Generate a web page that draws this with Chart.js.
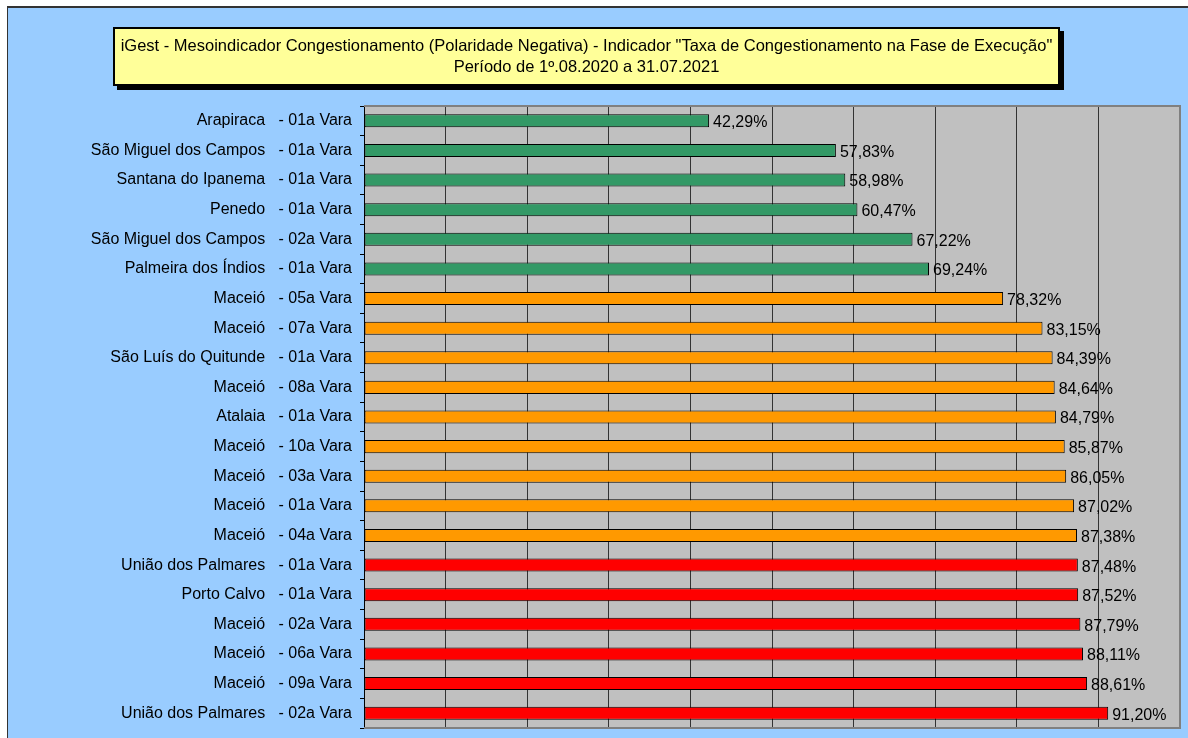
<!DOCTYPE html>
<html>
<head>
<meta charset="utf-8">
<script src="https://cdn.jsdelivr.net/npm/chart.js@4"></script>
<style>
  body { margin: 0; background: #fff; }
  #wrap { position: relative; width: 1188px; height: 738px; }
  #titulo {
    position: absolute; left: 113px; top: 27px; width: 943px; height: 49px;
    background: #ffff99; border: 2px solid #000; box-shadow: 4px 4px 0 #000;
    font-family: "Liberation Sans", Arial, sans-serif; font-size: 16.5px;
    text-align: center; line-height: 21px; padding-top: 6px; box-sizing: content-box;
  }
</style>
</head>
<body>
<div id="wrap">
  <canvas id="grafico" width="1188" height="738"></canvas>
  <div id="titulo"></div>
</div>
<script>
// dados
const tituloLinhas = [
  'iGest - Mesoindicador Congestionamento (Polaridade Negativa) - Indicador "Taxa de Congestionamento na Fase de Execução"',
  'Período de 1º.08.2020 a 31.07.2021'
]
const varas = [
  "Arapiraca   - 01a Vara",
  "São Miguel dos Campos   - 01a Vara",
  "Santana do Ipanema   - 01a Vara",
  "Penedo   - 01a Vara",
  "São Miguel dos Campos   - 02a Vara",
  "Palmeira dos Índios   - 01a Vara",
  "Maceió   - 05a Vara",
  "Maceió   - 07a Vara",
  "São Luís do Quitunde   - 01a Vara",
  "Maceió   - 08a Vara",
  "Atalaia   - 01a Vara",
  "Maceió   - 10a Vara",
  "Maceió   - 03a Vara",
  "Maceió   - 01a Vara",
  "Maceió   - 04a Vara",
  "União dos Palmares   - 01a Vara",
  "Porto Calvo   - 01a Vara",
  "Maceió   - 02a Vara",
  "Maceió   - 06a Vara",
  "Maceió   - 09a Vara",
  "União dos Palmares   - 02a Vara",
]
const taxas = [42.29, 57.83, 58.98, 60.47, 67.22, 69.24, 78.32, 83.15, 84.39, 84.64,
  84.79, 85.87, 86.05, 87.02, 87.38, 87.48, 87.52, 87.79, 88.11, 88.61, 91.2]
const faixas = ["verde", "verde", "verde", "verde", "verde", "verde",
  "laranja", "laranja", "laranja", "laranja", "laranja", "laranja", "laranja", "laranja", "laranja",
  "vermelho", "vermelho", "vermelho", "vermelho", "vermelho", "vermelho"]

const coresFaixa = { verde: "#339966", laranja: "#ff9900", vermelho: "#ff0000" }

document.getElementById("titulo").innerHTML = tituloLinhas.join("<br>")

// fundo azul, área de plotagem cinza e bordas
const fundo = {
  id: "fundo",
  beforeDraw(chart) {
    const { ctx, chartArea: a } = chart
    ctx.save()
    ctx.fillStyle = "#ffffff"
    ctx.fillRect(0, 0, chart.width, chart.height)
    ctx.fillStyle = "#99ccff"
    ctx.fillRect(8, 8, chart.width - 8, chart.height - 8)
    ctx.fillStyle = "#333"
    ctx.fillRect(7, 6, chart.width - 7, 2)
    ctx.fillRect(7, 6, 1, chart.height - 6)
    ctx.fillStyle = "#c0c0c0"
    ctx.fillRect(a.left, a.top, a.right - a.left, a.bottom - a.top)
    ctx.restore()
  },
  afterDraw(chart) {
    const { ctx, chartArea: a } = chart
    ctx.save()
    ctx.strokeStyle = "#808080"
    ctx.lineWidth = 2
    ctx.beginPath()
    ctx.moveTo(a.left, a.top)
    ctx.lineTo(a.right, a.top)
    ctx.lineTo(a.right, a.bottom)
    ctx.lineTo(a.left, a.bottom)
    ctx.stroke()
    ctx.restore()
  },
}

// rótulos de valor à direita das barras
const rotulos = {
  id: "rotulos",
  afterDatasetsDraw(chart) {
    const { ctx } = chart
    ctx.save()
    ctx.font = "16px 'Liberation Sans', Arial, sans-serif"
    ctx.fillStyle = "#000"
    ctx.textBaseline = "middle"
    chart.getDatasetMeta(0).data.forEach((bar, i) => {
      const txt = taxas[i].toFixed(2).replace(".", ",") + "%"
      ctx.fillText(txt, bar.x + 4, bar.y + 2)
    })
    ctx.restore()
  },
}

new Chart(document.getElementById("grafico"), {
  type: "bar",
  data: {
    labels: varas,
    datasets: [{
      data: taxas,
      backgroundColor: faixas.map((f) => coresFaixa[f]),
      borderColor: "#000",
      borderWidth: 1,
      borderSkipped: false,
      categoryPercentage: 1,
      barPercentage: 0.44,
    }],
  },
  options: {
    indexAxis: "y",
    responsive: false,
    animation: false,
    layout: { padding: { top: 106, right: 8, bottom: 10, left: 0 } },
    plugins: { legend: { display: false }, tooltip: { enabled: false } },
    scales: {
      x: {
        min: 0,
        max: 100,
        ticks: { display: false, stepSize: 10 },
        grid: { color: "#333", lineWidth: 1, drawTicks: false },
        border: { display: false },
        afterFit(s) { s.height = 0 },
      },
      y: {
        offset: true,
        ticks: {
          color: "#000",
          padding: 8,
          font: { family: "'Liberation Sans', Arial, sans-serif", size: 16 },
        },
        grid: { offset: true, drawOnChartArea: false, tickLength: 4, color: "#000" },
        border: { color: "#000", width: 1 },
        afterFit(s) {
          s.width = 364
          s.paddingTop = 0
          s.paddingBottom = 0
        },
      },
    },
  },
  plugins: [fundo, rotulos],
})
</script>
</body>
</html>
